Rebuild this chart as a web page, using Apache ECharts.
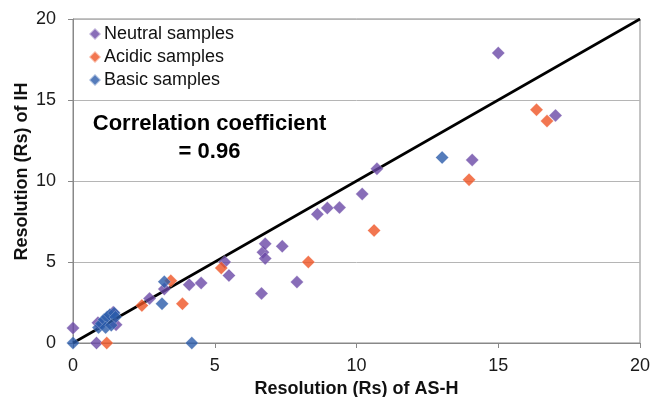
<!DOCTYPE html>
<html><head><meta charset="utf-8">
<script src="https://cdn.jsdelivr.net/npm/echarts@6/dist/echarts.min.js"></script>
<style>html,body{margin:0;padding:0;background:#fff}#c{width:654px;height:397px}</style>
</head><body><div id="c"></div>
<script>
var neutral = [[0,0.92],[0.83,0],[0.88,1.25],[1.52,1.12],[1.42,1.9],[2.7,2.75],[3.22,3.33],[4.1,3.6],[4.52,3.7],[5.35,5.0],[5.5,4.17],[6.65,3.06],[6.7,5.6],[6.78,6.12],[6.78,5.22],[7.38,5.97],[7.9,3.76],[8.62,7.95],[8.97,8.33],[9.4,8.36],[10.2,9.2],[10.72,10.75],[14.08,11.3],[15.0,17.9],[17.02,14.05]];
var acidic = [[1.19,0],[2.43,2.32],[3.45,3.84],[3.86,2.42],[5.23,4.63],[8.3,5.0],[10.62,6.95],[13.97,10.08],[16.35,14.4],[16.72,13.7]];
var basic = [[0,0],[0.9,0.95],[1.0,1.2],[1.1,1.45],[1.2,1.6],[1.3,1.75],[1.45,1.85],[1.5,1.6],[1.15,0.95],[1.35,1.1],[3.14,2.42],[3.22,3.78],[4.19,0],[13.02,11.45]];
var fitLine = [[0,0],[20,20]];
var legendNames = ['Neutral samples','Acidic samples','Basic samples'];
var annotation = ['Correlation coefficient','= 0.96'];
var xTitle = 'Resolution (Rs) of AS-H';
var yTitle = 'Resolution (Rs) of IH';

var chart = echarts.init(document.getElementById('c'));
var font = '"Liberation Sans", Arial, sans-serif';
function sc(name, data, color){
  return {name:name,type:'scatter',data:data,symbol:'diamond',symbolSize:13,
    itemStyle:{color:color,borderColor:'rgba(255,255,255,0.6)',borderWidth:0.5},z:3};
}
chart.setOption({
  animation:false,
  grid:{left:73,right:14,top:19,bottom:54,show:true,borderColor:'#888',borderWidth:1,
    containLabel:false,outerBoundsMode:'none'},
  legend:{orient:'vertical',left:83,top:20,itemGap:5,itemWidth:12,itemHeight:12,
    data:legendNames.map(function(n){return {name:n,icon:'diamond'};}),
    textStyle:{fontFamily:font,fontSize:18,lineHeight:18,color:'#111',padding:[0,0,0,-2]}},
  xAxis:{type:'value',min:0,max:20,interval:5,
    name:xTitle,nameLocation:'middle',nameGap:37,
    nameTextStyle:{fontFamily:font,fontSize:18,fontWeight:'bold',color:'#111'},
    axisLine:{lineStyle:{color:'#888'}},axisTick:{show:true,length:5,lineStyle:{color:'#888'}},
    axisLabel:{fontFamily:font,fontSize:18,color:'#1a1a1a',margin:14},
    splitLine:{show:false}},
  yAxis:{type:'value',min:0,max:20,interval:5,
    axisLine:{show:true,lineStyle:{color:'#888'}},axisTick:{show:true,length:5,lineStyle:{color:'#888'}},
    axisLabel:{fontFamily:font,fontSize:18,color:'#1a1a1a',margin:17},
    splitLine:{show:true,lineStyle:{color:'#b5b5b5',width:1}}},
  graphic:[
    {type:'text',x:22,y:171.5,rotation:Math.PI/2,style:{text:yTitle,font:'bold 18px '+font,fill:'#111',textAlign:'center',textVerticalAlign:'middle'}},
    {type:'text',x:209.5,y:124,style:{text:annotation[0],font:'bold 22px '+font,fill:'#000',textAlign:'center',textVerticalAlign:'middle'}},
    {type:'text',x:209.5,y:152,style:{text:annotation[1],font:'bold 22px '+font,fill:'#000',textAlign:'center',textVerticalAlign:'middle'}}
  ],
  series:[
    {type:'line',data:fitLine,symbol:'none',lineStyle:{color:'#000',width:2.6},z:2,silent:true},
    sc(legendNames[0],neutral,'#6A48A6'),
    sc(legendNames[1],acidic,'#EF5424'),
    sc(legendNames[2],basic,'#2A5BAA')
  ]
});
</script></body></html>
